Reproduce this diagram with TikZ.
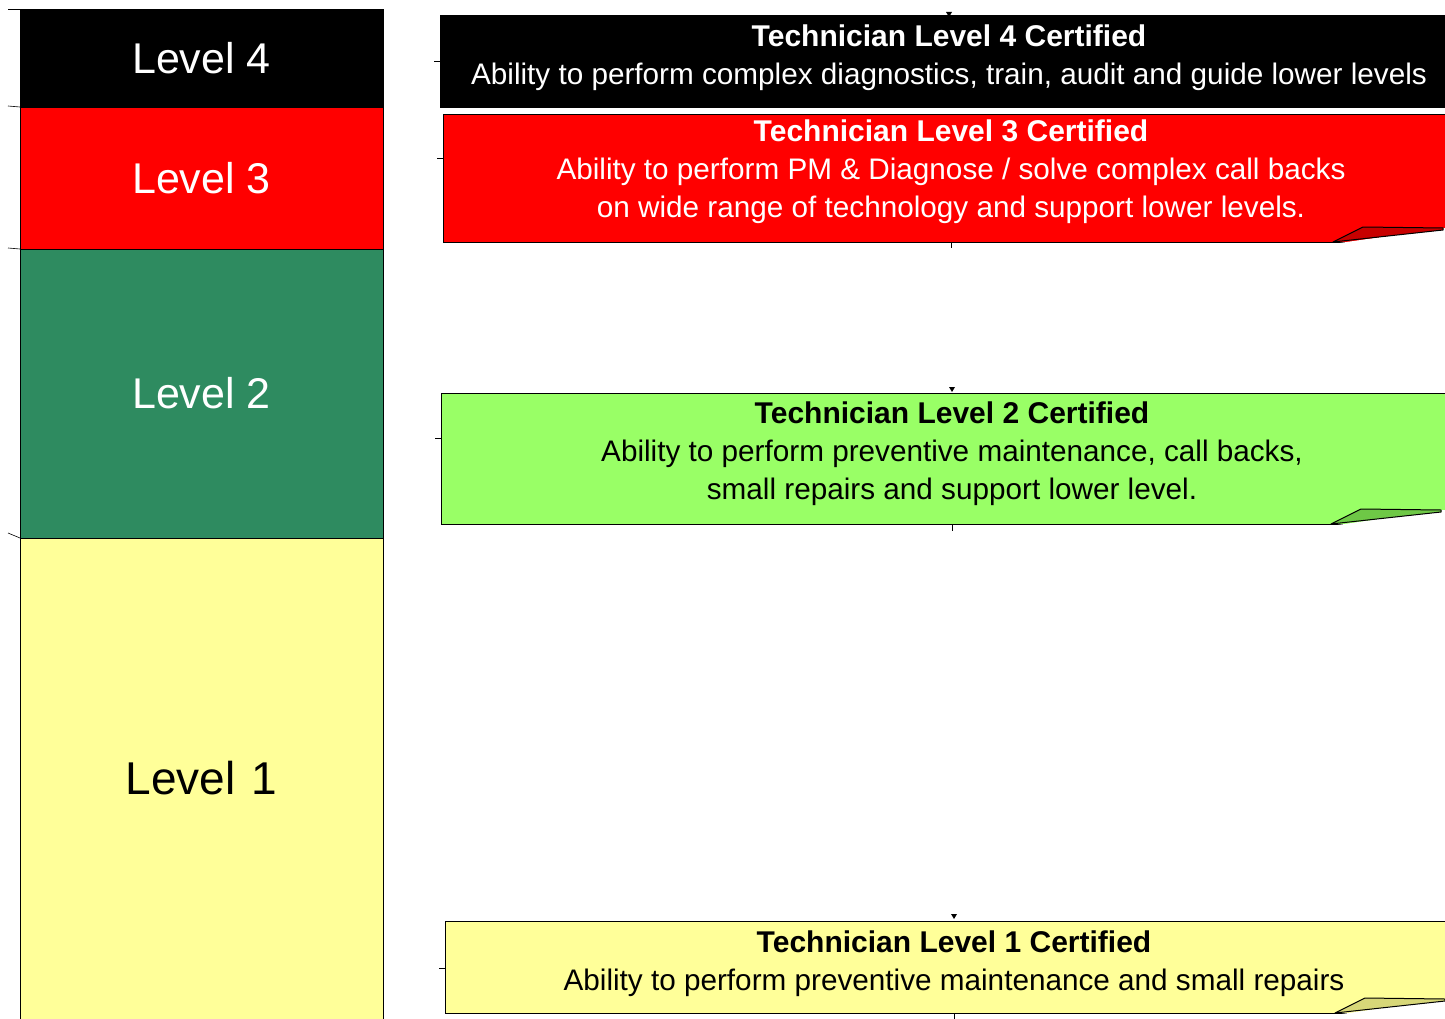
\documentclass[tikz,border=0pt]{standalone}
\usepackage{fontspec}
\setmainfont{Liberation Sans}
\usetikzlibrary{positioning}

\definecolor{lvlgreen}{RGB}{46,139,96}
\definecolor{lvlyellow}{RGB}{255,255,153}
\definecolor{certgreen}{RGB}{153,255,102}
\definecolor{foldred}{RGB}{200,0,0}
\definecolor{foldgreen}{RGB}{110,200,70}
\definecolor{foldyellow}{RGB}{215,215,120}

\begin{document}
\begin{tikzpicture}[x=1pt, y=-1pt,
		levelbox/.style = {
			draw, rectangle, line width=0.8pt,
			minimum width=363pt,
			outer sep=0pt, inner sep=0pt,
			font=\fontsize{43}{50}\selectfont
		},
		certbox/.style = {
			draw, rectangle, line width=1pt,
			minimum width=1030pt,
			anchor=north west,
			outer sep=0pt, inner sep=0pt
		},
		certtext/.style = {
			align=center, inner sep=0pt,
			font=\fontsize{29.7}{38}\selectfont
		},
		tick/.style = {line width=1pt}
		]
		\useasboundingbox (0,0) rectangle (1445,1019);
		\clip (0,0) rectangle (1445,1019);
		% left column
		\node [levelbox, fill=black, text=white, minimum height=98pt, anchor=north west] (l4) at (20,9) {Level 4};
		\node [levelbox, fill=red, text=white, minimum height=142pt, below=0pt of l4] (l3) {Level 3};
		\node [levelbox, fill=lvlgreen, text=white, minimum height=289pt, below=0pt of l3] (l2) {Level 2};
		\node [levelbox, fill=lvlyellow, minimum height=481pt, below=0pt of l2, font=\fontsize{46}{54}\selectfont] (l1) {Level\hspace{0.35em}1};
		\draw[tick, line width=0.6pt] (l4.north west) -- ++(-12,0);
		\draw[tick, line width=0.6pt] (l3.north west) -- ++(-12,-1);
		\draw[tick, line width=0.6pt] (l2.north west) -- ++(-12,-1);
		\draw[tick, line width=0.6pt] (l1.north west) -- ++(-12,-5);
		% right boxes
		\node [certbox, fill=black, minimum height=92pt] (c4) at (440,16) {};
		\node [certtext, text=white] (c4t) at ([xshift=-6pt, yshift=4pt]c4.center)
			{{\fontsize{30}{38}\selectfont\bfseries Technician Level 4 Certified}\\Ability to perform complex diagnostics, train, audit and guide lower levels};
		\node [certbox, fill=red, minimum height=127pt] (c3) at (443,115) {};
		\node [certtext, text=white] (c3t) at ([xshift=-7pt, yshift=7pt]c3.center)
			{{\fontsize{30}{38}\selectfont\bfseries Technician Level 3 Certified}\\Ability to perform PM \& Diagnose / solve complex call backs\\on wide range of technology and support lower levels.};
		\node [certbox, fill=certgreen, minimum height=131pt] (c2) at (441,393) {};
		\node [certtext] (c2t) at ([xshift=-4pt, yshift=5pt]c2.center)
			{{\fontsize{30}{38}\selectfont\bfseries Technician Level 2 Certified}\\Ability to perform preventive maintenance, call backs,\\small repairs and support lower level.};
		\node [certbox, fill=lvlyellow, minimum height=92pt] (c1) at (445,921) {};
		\node [certtext] (c1t) at ([xshift=-6pt, yshift=3pt]c1.center)
			{{\fontsize{30}{38}\selectfont\bfseries Technician Level 1 Certified}\\Ability to perform preventive maintenance and small repairs};
		% folded corners
		\foreach \b/\c in {c3/foldred, c2/foldgreen, c1/foldyellow} {
			\coordinate (\b f) at ([xshift=890pt]\b.south west);
			\fill[white] ([yshift=-2pt]\b f) -- ([xshift=110pt, yshift=14pt]\b f) -- ([xshift=140pt, yshift=14pt]\b f) -- ([xshift=140pt, yshift=-3pt]\b f) -- cycle;
			\filldraw[fill=\c, line width=1pt, line join=round] (\b f) -- ([xshift=30pt, yshift=15pt]\b f) -- ([xshift=110pt, yshift=14pt]\b f) -- ([xshift=110pt, yshift=12pt]\b f) -- cycle;
		}
		% ticks
		\draw[tick] (c4.west) -- ++(-6,0);
		\draw[tick] ([yshift=20pt]c3.west) -- ++(-6,0);
		\draw[tick] ([yshift=20pt]c2.west) -- ++(-6,0);
		\draw[tick] ([yshift=-1pt]c1.west) -- ++(-6,0);
		\draw[tick] (c3t |- c3.south) -- ++(0,6);
		\draw[tick] (c2t |- c2.south) -- ++(0,7);
		\draw[tick] (c1t |- c1.south) -- ++(0,6);
		\fill (c4t |- c4.north) ++(-3,-4) -- ++(6,0) -- ++(-3,5) -- cycle;
		\fill (c2t |- c2.north) ++(-3,-6) -- ++(6,0) -- ++(-3,5) -- cycle;
		\fill (c1t |- c1.north) ++(-3,-7) -- ++(6,0) -- ++(-3,5) -- cycle;
	\end{tikzpicture}
\end{document}
